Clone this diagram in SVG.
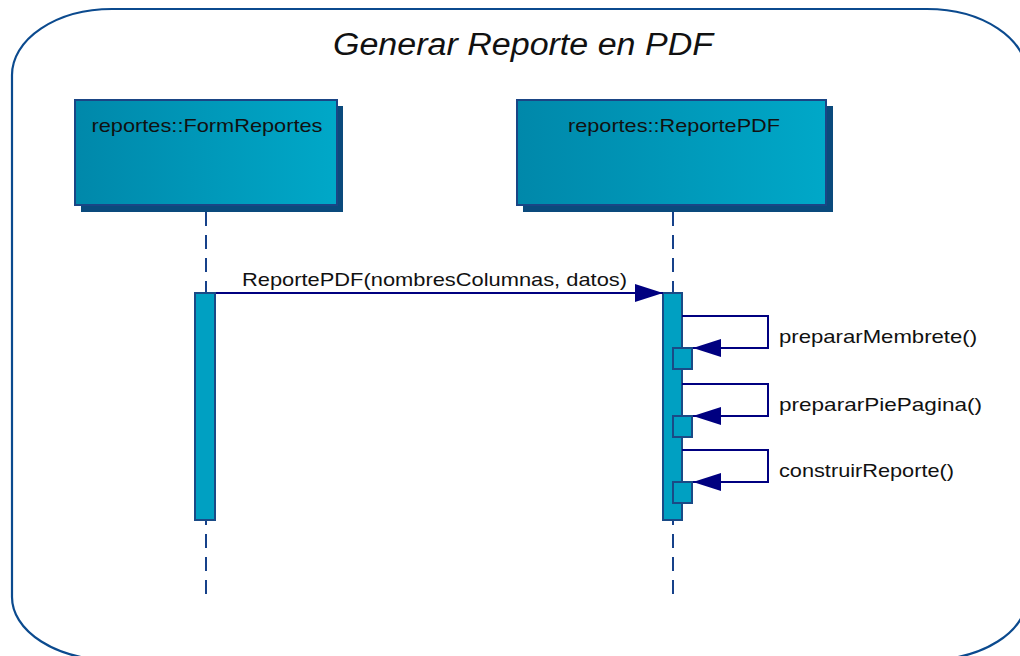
<svg xmlns="http://www.w3.org/2000/svg" width="1020" height="656" viewBox="0 0 1020 656">
<defs>
<linearGradient id="boxGrad" x1="0" y1="0" x2="1" y2="0">
<stop offset="0" stop-color="#0088aa"/>
<stop offset="1" stop-color="#00a8c8"/>
</linearGradient>
<marker id="arrow" viewBox="0 0 28 18" refX="28" refY="9" markerWidth="28" markerHeight="18" markerUnits="userSpaceOnUse" orient="auto">
<path d="M0,0 L28,9 L0,18 Z" fill="#000080"/>
</marker>
<style>
.frame{fill:none;stroke:#0b4a8e;stroke-width:2.2}
.title{font-family:"Liberation Sans",Arial,sans-serif;font-style:italic;font-size:31px;fill:#111}
.shadow{fill:#0a4a7c}
.box{fill:url(#boxGrad);stroke:#1a4585;stroke-width:2}
.name{font-family:"Liberation Sans",Arial,sans-serif;font-size:19px;fill:#111}
.life{stroke:#16418a;stroke-width:2;stroke-dasharray:14 9;fill:none}
.act{fill:#00a0c2;stroke:#1a4a86;stroke-width:2}
.msg{stroke:#000080;stroke-width:2;fill:none}
.lbl{font-family:"Liberation Sans",Arial,sans-serif;font-size:19px;fill:#111}
</style>
</defs>
<rect width="1020" height="656" fill="#ffffff"/>
<path class="frame" d="M112,9 H927 A100,66 0 0 1 1027,75 V597 A100,63 0 0 1 927,660 H112 A100,63 0 0 1 12,597 V75 A100,66 0 0 1 112,9 Z"/>
<text class="title" x="523" y="55" text-anchor="middle" textLength="380" lengthAdjust="spacingAndGlyphs">Generar Reporte en PDF</text>

<g id="node-formreportes">
<rect class="shadow" x="81" y="106" width="262" height="106"/>
<rect class="box" x="75" y="100" width="262" height="105"/>
<text class="name" x="207" y="132" text-anchor="middle" textLength="231" lengthAdjust="spacingAndGlyphs">reportes::FormReportes</text>
<line class="life" x1="206" y1="212" x2="206" y2="600"/>
<rect class="act" x="195" y="293" width="20" height="227"/>
</g>

<g id="node-reportepdf">
<rect class="shadow" x="523" y="106" width="310" height="106"/>
<rect class="box" x="517" y="100" width="309" height="105"/>
<text class="name" x="674" y="132" text-anchor="middle" textLength="212" lengthAdjust="spacingAndGlyphs">reportes::ReportePDF</text>
<line class="life" x1="673" y1="212" x2="673" y2="600"/>
<rect class="act" x="663" y="293" width="19" height="227"/>
<rect class="act" x="673" y="348" width="19" height="21"/>
<rect class="act" x="673" y="416" width="19" height="21"/>
<rect class="act" x="673" y="482" width="19" height="21"/>
</g>

<g id="connectors">
<line class="msg" x1="216" y1="293" x2="663" y2="293" marker-end="url(#arrow)"/>
<text class="lbl" x="242" y="286" textLength="385" lengthAdjust="spacingAndGlyphs">ReportePDF(nombresColumnas, datos)</text>
<path class="msg" d="M682,316 H768 V348 H693" marker-end="url(#arrow)"/>
<text class="lbl" x="779" y="343" textLength="198" lengthAdjust="spacingAndGlyphs">prepararMembrete()</text>
<path class="msg" d="M682,384 H768 V416 H693" marker-end="url(#arrow)"/>
<text class="lbl" x="779" y="411" textLength="203" lengthAdjust="spacingAndGlyphs">prepararPiePagina()</text>
<path class="msg" d="M682,450 H768 V482 H693" marker-end="url(#arrow)"/>
<text class="lbl" x="779" y="477" textLength="175" lengthAdjust="spacingAndGlyphs">construirReporte()</text>
</g>
</svg>
